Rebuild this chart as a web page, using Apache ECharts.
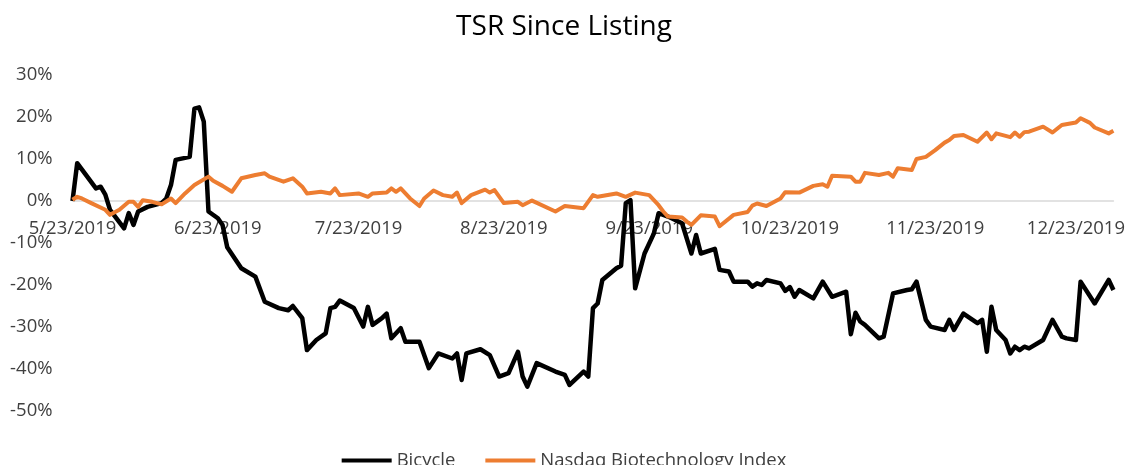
<!DOCTYPE html>
<html>
<head>
<meta charset="utf-8">
<script src="https://cdn.jsdelivr.net/npm/echarts@6/dist/echarts.min.js"></script>
<style>
  html, body { margin: 0; padding: 0; background: #fff; }
  #main { width: 1128px; height: 465px; }
</style>
</head>
<body>
<div id="main"></div>
<script>
// days since listing (5/23/2019) and total shareholder return in %
var bicycleDays = [0, 1, 5, 6, 7, 8, 11, 12, 13, 14, 16, 19, 20, 21, 22, 25, 26, 27, 28, 29,
  31, 32, 33, 36, 39, 41, 44, 46, 47, 49, 50, 52, 54, 55, 56, 57, 60, 62, 63, 64,
  66, 67, 68, 70, 71, 74, 76, 78, 81, 82, 83, 84, 87, 89, 91, 93, 95, 96, 97, 99,
  103, 105, 106, 109, 110, 111, 112, 113, 116, 117, 118, 119, 120, 122, 124, 125, 127, 130, 132, 133,
  134, 137, 138, 140, 141, 144, 145, 146, 147, 148, 151, 152, 153, 154, 155, 158, 160, 162, 165, 166,
  167, 168, 169, 172, 173, 175, 178, 179, 180, 182, 183, 186, 187, 188, 190, 193, 194, 195, 196, 197,
  199, 200, 201, 202, 203, 204, 207, 209, 211, 212, 214, 215, 218, 221, 222];
var bicycleTsr = [0, 9.0, 3.0, 3.4, 1.5, -2.1, -6.5, -2.9, -5.7, -2.5, -1.4, -0.5, 0.6, 3.8, 9.8, 10.5, 22.0, 22.3, 18.9, -2.5,
  -4.1, -5.7, -11.0, -16.0, -18.0, -24.0, -25.5, -26.0, -25.0, -27.9, -35.5, -33.1, -31.5, -25.5, -25.2, -23.7, -25.5, -29.9, -25.2, -29.5,
  -27.9, -26.8, -32.7, -30.3, -33.5, -33.5, -39.8, -36.3, -37.5, -36.3, -42.6, -36.3, -35.3, -36.7, -41.8, -41.0, -35.9, -41.8, -44.2, -38.6,
  -40.6, -41.4, -43.8, -40.6, -41.8, -25.5, -24.4, -18.8, -16.0, -15.4, -0.5, 0.2, -20.8, -12.5, -7.7, -2.9, -3.7, -5.3, -12.5, -8.1,
  -12.5, -11.4, -16.4, -16.8, -19.2, -19.2, -20.4, -19.6, -20.0, -18.8, -19.6, -21.4, -20.5, -22.8, -21.2, -23.2, -19.2, -22.8, -21.6, -31.7,
  -26.6, -28.7, -29.5, -32.7, -32.3, -22.0, -21.2, -21.0, -19.2, -28.3, -29.9, -30.7, -28.3, -30.7, -26.8, -29.1, -28.3, -35.9, -25.2, -30.7,
  -33.1, -36.3, -34.7, -35.5, -34.7, -35.1, -33.1, -28.3, -32.3, -32.7, -33.1, -19.2, -24.4, -18.8, -21.2];

var nbiDays = [0, 1, 2, 4, 7, 8, 10, 12, 13, 14, 15, 17, 19, 21, 22, 24, 26, 29, 30, 32,
  34, 36, 39, 41, 42, 45, 47, 49, 50, 53, 55, 56, 57, 61, 63, 64, 67, 68, 69, 70,
  72, 74, 75, 77, 79, 81, 82, 83, 85, 88, 89, 90, 92, 95, 96, 98, 103, 105, 109, 111,
  112, 116, 118, 120, 123, 125, 126, 127, 130, 131, 132, 134, 137, 138, 141, 144, 145, 146, 148, 151,
  152, 155, 158, 160, 161, 162, 166, 167, 168, 169, 172, 174, 175, 176, 179, 180, 182, 184, 186, 187,
  188, 190, 193, 195, 196, 197, 200, 201, 202, 203, 204, 207, 209, 211, 214, 215, 217, 218, 221, 222];
var nbiTsr = [0.3, 1.0, 0.6, -0.5, -2.1, -3.3, -2.1, -0.2, -0.2, -1.4, 0.2, -0.2, -0.8, 0.6, -0.5, 1.8, 3.8, 5.8, 4.8, 3.6,
  2.2, 5.4, 6.2, 6.6, 5.8, 4.6, 5.4, 3.4, 1.8, 2.2, 1.8, 3.0, 1.4, 1.8, 1.0, 1.8, 2.0, 3.0, 2.2, 3.0,
  0.6, -1.2, 0.6, 2.5, 1.4, 1.0, 2.0, -0.5, 1.4, 2.7, 2.0, 2.6, -0.5, -0.2, -1.0, 0.1, -2.5, -1.2, -1.7, 1.4,
  1.0, 1.8, 1.0, 2.0, 1.4, -1.0, -2.5, -3.7, -3.9, -4.9, -5.7, -3.4, -3.7, -6.0, -3.3, -2.6, -1.1, -0.6, -1.2, 0.6,
  2.1, 2.0, 3.6, 4.0, 3.4, 6.0, 5.8, 4.6, 4.6, 6.7, 6.2, 6.7, 5.8, 7.8, 7.4, 10.0, 10.5, 12.1, 13.9, 14.5,
  15.5, 15.7, 14.1, 16.3, 14.7, 16.1, 15.2, 16.3, 15.3, 16.4, 16.5, 17.7, 16.3, 18.1, 18.7, 19.7, 18.6, 17.5, 16.1, 16.7];

var labelMonths = [4, 5, 6, 7, 8, 9, 10, 11]; // label on the 23rd of each month, 2019

var LISTED = Date.UTC(2019, 4, 23);
var DAY = 86400000;
var LAST_DAY = (Date.UTC(2019, 11, 31) - LISTED) / DAY;

function pairs(days, vals) {
  var out = [];
  for (var i = 0; i < days.length; i++) out.push([days[i], vals[i]]);
  return out;
}

function fmtDay(v) {
  var d = new Date(LISTED + Math.round(v) * DAY);
  return (d.getUTCMonth() + 1) + '/' + d.getUTCDate() + '/' + d.getUTCFullYear();
}

var font = '"Open Sans", "Noto Sans", sans-serif';
var textColor = '#404040';

// y range -50..30 over a 336px tall grid: the 0% line sits 210px above the bottom
var yMin = -50, yMax = 30, gridTop = 75, gridHeight = 336;
var zeroOffset = -gridHeight * (0 - yMin) / (yMax - yMin);

var myChart = echarts.init(document.getElementById('main'));

var option = {
  animation: false,
  backgroundColor: '#fff',
  title: {
    text: 'TSR Since Listing',
    left: 'center',
    top: 8,
    textStyle: { fontFamily: font, fontSize: 28, fontWeight: 'normal', color: '#000' }
  },
  legend: {
    left: 'center',
    top: 446,
    itemWidth: 50,
    itemHeight: 4,
    itemGap: 30,
    icon: 'rect',
    textStyle: { fontFamily: font, fontSize: 18.5, color: textColor },
    data: ['Bicycle', 'Nasdaq Biotechnology Index']
  },
  grid: { left: 72.5, right: 11, top: gridTop, height: gridHeight, containLabel: false },
  xAxis: {
    type: 'value',
    min: 0,
    max: LAST_DAY,
    position: 'bottom',
    offset: zeroOffset,
    axisLine: { onZero: false, lineStyle: { color: '#d9d9d9', width: 1.5 } },
    axisTick: { show: false },
    splitLine: { show: false },
    axisLabel: {
      customValues: labelMonths.map(function (m) { return (Date.UTC(2019, m, 23) - LISTED) / DAY; }),
      formatter: fmtDay,
      hideOverlap: false,
      showMinLabel: true,
      showMaxLabel: true,
      margin: 18,
      fontFamily: font,
      fontSize: 18.5,
      color: textColor
    }
  },
  yAxis: {
    type: 'value',
    min: yMin,
    max: yMax,
    interval: 10,
    axisLine: { show: false },
    axisTick: { show: false },
    splitLine: { show: false },
    axisLabel: {
      formatter: '{value}%',
      margin: 20,
      fontFamily: font,
      fontSize: 18.5,
      color: textColor
    }
  },
  series: [{
    name: 'Bicycle',
    type: 'line',
    data: pairs(bicycleDays, bicycleTsr),
    showSymbol: false,
    color: '#000000',
    lineStyle: { width: 4.5, join: 'round' }
  }, {
    name: 'Nasdaq Biotechnology Index',
    type: 'line',
    data: pairs(nbiDays, nbiTsr),
    showSymbol: false,
    color: '#ED7D31',
    lineStyle: { width: 4, join: 'round' }
  }]
};

myChart.setOption(option);
</script>
</body>
</html>
